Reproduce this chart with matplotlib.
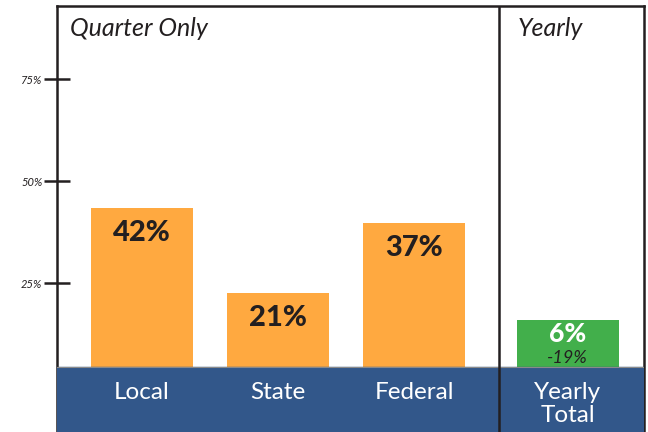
import matplotlib.pyplot as plt

# --- dati ---
categories = ["Local", "State", "Federal"]
bar_heights = [43.4, 22.5, 39.7]          # altezze (scala %)
bar_labels = ["42%", "21%", "37%"]
yearly_category = "Yearly\nTotal"
yearly_height = 15.9
yearly_label = "6%"
yearly_change = "-19%"
tick_values = [25, 50, 75]
tick_labels = ["25%", "50%", "75%"]

# --- stile ---
dark = "#231F20"
orange = "#FFA940"
green = "#42AF4B"
blue = "#32578A"
font = "Lato"
px = 0.72  # 1 px in punti (dpi 100)

fig = plt.figure(figsize=(6.48, 4.32), dpi=100)
fig.patch.set_facecolor("white")
ax = fig.add_axes([57 / 648, 0, (644 - 57) / 648, (432 - 6) / 432])

# posizioni x (unita' ~136 px)
xpos = [0, 1, 2]
x_yearly = 3.13
x_div = 2.625
width = 0.75
baseline = 4.4

ax.set_xlim(-0.625, 3.69)
ax.set_ylim(-11.5, 92.9)

ax.bar(xpos, bar_heights, width=width, color=orange, zorder=2)
ax.bar([x_yearly], [yearly_height], width=width, color=green, zorder=2)

# banda blu in basso
ax.axhspan(-11.5, baseline, color=blue, zorder=3)
ax.axhline(baseline, color="#8a8a8a", lw=0.8, zorder=3.5)
ax.axvline(x_div, color=dark, lw=1.8, zorder=5)

# etichette barre
for x, h, lab in zip(xpos, bar_heights, bar_labels):
    ax.annotate(lab, (x, h), xytext=(0, -25 * px), textcoords="offset points",
                ha="center", va="center", fontsize=21, fontweight="black",
                color=dark, family=font, zorder=6)

for x, cat in zip(xpos, categories):
    ax.annotate(cat, (x, baseline), xytext=(0, -32 * px), textcoords="offset points",
                ha="center", va="baseline", fontsize=17.5, color="white",
                family=font, zorder=6)

ax.annotate(yearly_label, (x_yearly, yearly_height), xytext=(0, -14 * px),
            textcoords="offset points", ha="center", va="center", fontsize=19,
            fontweight="black", color="white", family=font, zorder=6)
ax.annotate(yearly_change, (x_yearly, yearly_height), xytext=(0, -38 * px),
            textcoords="offset points", ha="center", va="center", fontsize=13,
            fontstyle="italic", color=dark, family=font, zorder=6)
ax.annotate(yearly_category, (x_yearly, baseline), xytext=(0, -55 * px),
            textcoords="offset points", ha="center", va="baseline", fontsize=17.5,
            color="white", family=font, linespacing=1.1, zorder=6)

# intestazioni
ax.text(70 / 648, 1 - 36 / 432, "Quarter Only", transform=fig.transFigure,
        fontsize=18, fontstyle="italic", color=dark, family=font, va="baseline")
ax.text(518 / 648, 1 - 36 / 432, "Yearly", transform=fig.transFigure,
        fontsize=18, fontstyle="italic", color=dark, family=font, va="baseline")

# assi e cornice
for side in ["left", "top", "right"]:
    ax.spines[side].set_linewidth(1.8)
    ax.spines[side].set_color(dark)
ax.spines["bottom"].set_visible(False)

ax.set_xticks([])
ax.set_yticks(tick_values)
ax.set_yticklabels(tick_labels, fontsize=8, fontstyle="italic", family=font, color=dark)
ax.tick_params(axis="y", direction="inout", length=19, width=1.8, color=dark, pad=1)

fig.savefig("out.png", dpi=100)
